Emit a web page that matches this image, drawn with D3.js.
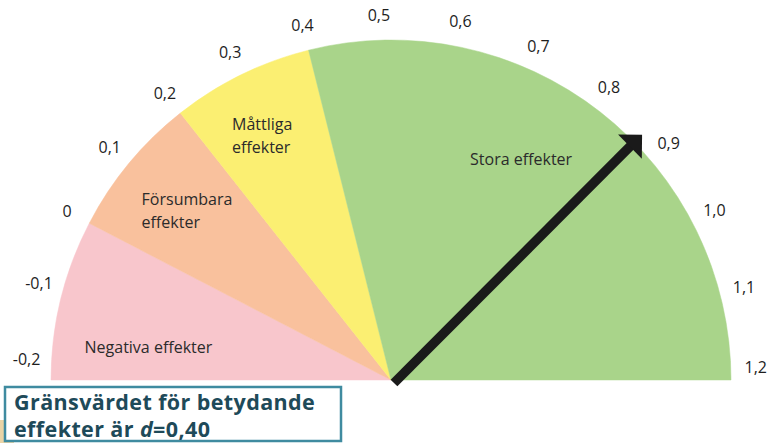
<!DOCTYPE html>
<html>
<head>
<meta charset="utf-8">
<script src="https://cdnjs.cloudflare.com/ajax/libs/d3/7.8.5/d3.min.js"></script>
<style>
  body { margin: 0; background: #fff; }
  svg { display: block; }
</style>
</head>
<body>
<div id="gauge"></div>
<script>
// gauge data
const ticks = [-0.2, -0.1, 0, 0.1, 0.2, 0.3, 0.4, 0.5, 0.6, 0.7, 0.8, 0.9, 1.0, 1.1, 1.2];
const tickLabels = ["-0,2", "-0,1", "0", "0,1", "0,2", "0,3", "0,4", "0,5", "0,6", "0,7", "0,8", "0,9", "1,0", "1,1", "1,2"];
const zoneNames = [["Negativa effekter"], ["Försumbara", "effekter"], ["Måttliga", "effekter"], ["Stora effekter"]];
const zoneStart = [-0.2, 0, 0.2, 0.4];
const zoneEnd = [0, 0.2, 0.4, 1.2];
const zoneColors = ["#f8c6cc", "#f9c19d", "#fbef72", "#a9d48a"];
const pointerValue = 0.87;
const noteLines = ["Gränsvärdet för betydande", "effekter är "];

document.addEventListener('DOMContentLoaded', function() {
    const width = 769, height = 443;
    const cx = 391, cy = 380, r = 340;
    const deg = Math.PI / 180;

    const svg = d3.select("#gauge")
        .append("svg")
        .attr("width", width)
        .attr("height", height);

    // value -> angle (radians, 0 = up); the printed dial is not quite even
    const angle = d3.scaleLinear()
        .domain([-0.2, 0.5, 1.2])
        .range([-86.8 * deg, -1.9 * deg, 88.1 * deg]);

    const polar = (a, rad) => [cx + rad * Math.sin(a), cy - rad * Math.cos(a)];

    const g = svg.append("g");

    const zones = zoneStart.map((s, i) => ({start: s, end: zoneEnd[i], name: zoneNames[i], color: zoneColors[i]}));
    const lo = d3.min(zoneStart), hi = d3.max(zoneEnd);

    // outer zones run out to the flat edge of the half disc
    const arc = d3.arc()
        .innerRadius(0)
        .outerRadius(r)
        .startAngle(d => d.start === lo ? -Math.PI / 2 : angle(d.start))
        .endAngle(d => d.end === hi ? Math.PI / 2 : angle(d.end));

    g.selectAll(".zone")
        .data(zones)
        .join("path")
        .attr("class", "zone")
        .attr("transform", `translate(${cx},${cy})`)
        .attr("d", arc)
        .attr("fill", d => d.color)
        .attr("stroke", d => d.color)
        .attr("stroke-width", 0.5);

    // zone captions: [value, radius fraction, anchor]
    const captionPos = [[-0.163, 0.72, "middle"], [0.07, 0.906, "start"], [0.253, 0.886, "start"], [0.752, 0.754, "middle"]];
    zones.forEach((z, i) => {
        const p = captionPos[i];
        const [x, y] = polar(angle(p[0]), r * p[1]);
        const t = g.append("text")
            .attr("x", x)
            .attr("y", y)
            .attr("text-anchor", p[2])
            .style("font-family", "'Open Sans', sans-serif")
            .style("font-size", "16px")
            .style("fill", "#2b2b2b");
        z.name.forEach((line, j) => {
            t.append("tspan")
                .attr("x", x)
                .attr("dy", j === 0 ? "0.35em" : "1.45em")
                .text(line);
        });
    });

    // tick labels round the rim
    g.selectAll(".tick-label")
        .data(ticks)
        .join("text")
        .attr("class", "tick-label")
        .attr("x", d => polar(angle(d), 365)[0])
        .attr("y", d => polar(angle(d), 365)[1])
        .attr("text-anchor", "middle")
        .attr("dy", "0.35em")
        .style("font-family", "'Open Sans', sans-serif")
        .style("font-size", "16px")
        .style("fill", "#1e1e1e")
        .text((d, i) => tickLabels[i]);

    // pointer
    const a = angle(pointerValue);
    const tipR = r + 11, head = 17;
    const tip = polar(a, tipR);
    const base = polar(a, tipR - head);
    const ux = Math.sin(a), uy = -Math.cos(a);
    const px = -uy, py = ux;
    const shaftEnd = polar(a, tipR - head + 2);

    g.append("line")
        .attr("x1", cx + 3)
        .attr("y1", cy + 3)
        .attr("x2", shaftEnd[0])
        .attr("y2", shaftEnd[1])
        .attr("stroke", "#1a1a1a")
        .attr("stroke-width", 9.5);

    g.append("path")
        .attr("d", `M${tip[0]},${tip[1]} L${base[0] + px * head},${base[1] + py * head} L${base[0] - px * head},${base[1] - py * head} Z`)
        .attr("fill", "#1a1a1a");

    // note box
    g.append("rect")
        .attr("x", 0)
        .attr("y", 420)
        .attr("width", 14)
        .attr("height", 23)
        .attr("fill", "#ead4a6");

    g.append("rect")
        .attr("x", 5)
        .attr("y", 387)
        .attr("width", 336)
        .attr("height", 54)
        .attr("fill", "#fff")
        .attr("stroke", "#3f8ba0")
        .attr("stroke-width", 2.5);

    const note = g.append("text")
        .style("font-family", "'Open Sans', sans-serif")
        .style("font-weight", "bold")
        .style("font-size", "21.5px")
        .style("letter-spacing", "0.4px")
        .style("fill", "#1e4a59");

    note.append("tspan").attr("x", 14).attr("y", 410).text(noteLines[0]);
    note.append("tspan").attr("x", 14).attr("y", 437).text(noteLines[1]);
    note.append("tspan").style("font-style", "italic").text("d");
    note.append("tspan").text("=0,40");
});
</script>
</body>
</html>
